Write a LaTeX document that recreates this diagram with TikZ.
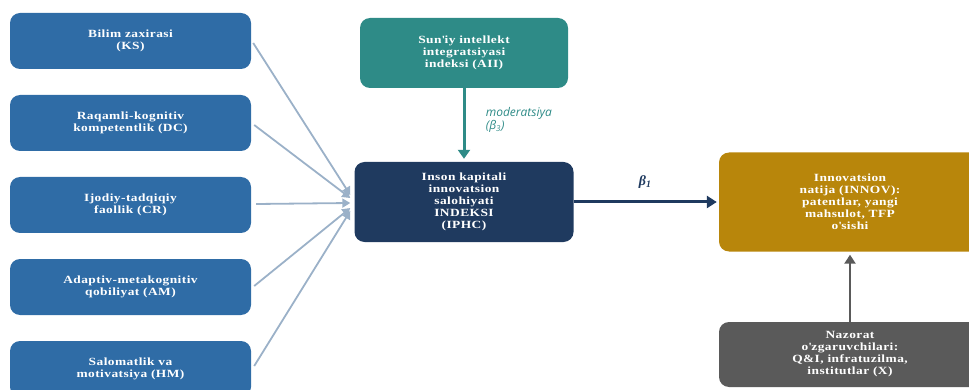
\documentclass[tikz,border=0pt]{standalone}
\usepackage{fontspec}
\setmainfont{Liberation Serif}[FakeStretch=1.22,LetterSpace=4]
\newfontfamily\labfont{Open Sans}
\newfontfamily\betafont{Liberation Serif}
\usetikzlibrary{arrows.meta,calc}
\definecolor{cblue}{HTML}{2F6CA6}
\definecolor{cteal}{HTML}{2E8B87}
\definecolor{cnavy}{HTML}{1F3A5F}
\definecolor{cgold}{HTML}{B8860B}
\definecolor{cgray}{HTML}{5A5A5A}
\definecolor{cline}{HTML}{9BB1C8}
\begin{document}
\begin{tikzpicture}[x=1pt,y=-1pt,
  box/.style={rounded corners=10pt, inner sep=0pt, text=white, align=center,
    font=\fontsize{11}{12}\selectfont\bfseries},
  lbox/.style={box, fill=cblue, minimum width=241pt, minimum height=56pt},
  feed/.style={draw=cline, line width=1.8pt, -{Triangle[width=9pt,length=8pt]}},
]
\useasboundingbox (0,0) rectangle (969,390);
\clip (0,0) rectangle (969,390);
\node[lbox] (ks) at (130.5,41) {Bilim zaxirasi\\(KS)};
\node[lbox] (dc) at (130.5,123) {Raqamli-kognitiv\\kompetentlik (DC)};
\node[lbox] (cr) at (130.5,205) {Ijodiy-tadqiqiy\\faollik (CR)};
\node[lbox] (am) at (130.5,287) {Adaptiv-metakognitiv\\qobiliyat (AM)};
\node[lbox, minimum height=56pt] (hm) at (130.5,369) {Salomatlik va\\motivatsiya (HM)};
\node[box, fill=cteal, minimum width=208pt, minimum height=70pt] (aii) at (464,53) {Sun\textquotesingle iy intellekt\\integratsiyasi\\indeksi (AII)};
\node[box, fill=cnavy, minimum width=219pt, minimum height=80pt] (iphc) at (464,202) {Inson kapitali\\innovatsion\\salohiyati\\INDEKSI\\(IPHC)};
\node[box, fill=cgold, minimum width=262pt, minimum height=99pt] (innov) at (850,202) {Innovatsion\\natija (INNOV):\\patentlar, yangi\\mahsulot, TFP\\o\textquotesingle sishi};
\node[box, fill=cgray, minimum width=262pt, minimum height=65pt] (ctrl) at (850,354.5) {Nazorat\\o\textquotesingle zgaruvchilari:\\Q\&I, infratuzilma,\\institutlar (X)};
\coordinate (e1) at ($(iphc.west)+(-4,-7)$);
\coordinate (e2) at ($(iphc.west)+(-4,-4)$);
\coordinate (e3) at ($(iphc.west)+(-4,1)$);
\coordinate (e4) at ($(iphc.west)+(-4,6)$);
\coordinate (e5) at ($(iphc.west)+(-4,9)$);
\draw[feed] ($(ks.east)+(2,2)$) -- (e1);
\draw[feed] ($(dc.east)+(3,2)$) -- (e2);
\draw[feed] ($(cr.east)+(5,-1)$) -- (e3);
\draw[feed] ($(am.east)+(3,-1)$) -- (e4);
\draw[feed] ($(hm.east)+(3,-3)$) -- (e5);
\draw[draw=cteal, line width=3pt, -{Triangle[width=12pt,length=9pt]}] (aii.south) -- ($(iphc.north)+(0,-3)$)
  node[pos=0.45, right=17pt, text=cteal, align=left, font=\labfont\itshape\fontsize{12}{11}\selectfont] {moderatsiya\\(β\textsubscript{3})};
\draw[draw=cnavy, line width=3pt, -{Triangle[width=12pt,length=10pt]}] (iphc.east) -- ($(innov.west)+(-2,0)$)
  node[midway, above=9pt, text=cnavy, font=\betafont\bfseries\itshape\fontsize{14}{14}\selectfont] {β\textsubscript{1}};
\draw[draw=cgray, line width=2.5pt, -{Triangle[width=11pt,length=9pt]}] (ctrl.north) -- ($(innov.south)+(0,3)$);
\end{tikzpicture}
\end{document}
